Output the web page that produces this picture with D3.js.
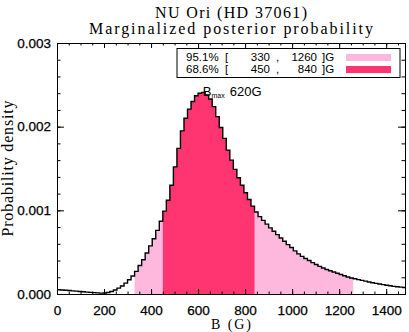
<!DOCTYPE html>
<html>
<head>
<meta charset="utf-8">
<script src="https://cdn.jsdelivr.net/npm/d3@7"></script>
<style>
  body { margin: 0; background: #fff; }
  text { fill: #000; }
</style>
</head>
<body>
<svg id="chart" width="409" height="332"></svg>
<script>
// histogram of the marginalized posterior (15 G bins)
const binWidth = 15;
const densityE3 = [
  0.050, 0.047, 0.044, 0.041, 0.037, 0.034, 0.030, 0.027, 0.023, 0.019,
  0.016, 0.013, 0.011, 0.012, 0.018, 0.030, 0.048, 0.070, 0.095, 0.130,
  0.170, 0.215, 0.270, 0.340, 0.410, 0.490, 0.575, 0.660, 0.760, 0.870,
  0.990, 1.120, 1.300, 1.520, 1.740, 1.950, 2.100, 2.210, 2.300, 2.370,
  2.400, 2.410, 2.380, 2.330, 2.240, 2.120, 1.990, 1.860, 1.720, 1.600,
  1.490, 1.390, 1.300, 1.210, 1.130, 1.050, 0.980, 0.925, 0.880, 0.835,
  0.790, 0.750, 0.710, 0.670, 0.630, 0.590, 0.555, 0.515, 0.480, 0.450,
  0.425, 0.400, 0.375, 0.352, 0.330, 0.310, 0.293, 0.278, 0.263, 0.248,
  0.233, 0.218, 0.204, 0.192, 0.182, 0.172, 0.163, 0.154, 0.144, 0.135,
  0.127, 0.120, 0.112, 0.105, 0.098, 0.091, 0.086, 0.082, 0.078, 0.075
];

// credible intervals
const intervalLabels = ["95.1%", "68.6%"];
const intervalLow = [330, 450];
const intervalHigh = [1260, 840];
const intervalColors = ["#ffb8dd", "#ff3571"];
const bMax = 620;

const xTicks = [0, 200, 400, 600, 800, 1000, 1200, 1400];
const yTicks = [0.000, 0.001, 0.002, 0.003];

const svg = d3.select("#chart");
const pL = 57, pR = 405, pT = 43, pB = 294;

const x = d3.scaleLinear().domain([0, 1480]).range([pL, pR]);
const y = d3.scaleLinear().domain([0, 0.003]).range([pB, pT]);

// step outline points
const steps = [];
densityE3.forEach((d, i) => {
    steps.push([i * binWidth, d / 1000]);
    steps.push([(i + 1) * binWidth, d / 1000]);
});

svg.append("clipPath").attr("id", "plotclip")
    .append("rect")
    .attr("x", pL).attr("y", pT)
    .attr("width", pR - pL).attr("height", pB - pT);

const area = d3.area()
    .x(d => x(d[0]))
    .y0(y(0))
    .y1(d => y(d[1]));

// shaded intervals, widest first
intervalLow.forEach((lo, i) => {
    const id = "iv" + i;
    svg.append("clipPath").attr("id", id)
        .append("rect")
        .attr("x", x(lo)).attr("y", pT)
        .attr("width", x(intervalHigh[i]) - x(lo))
        .attr("height", pB - pT);
    svg.append("path")
        .datum(steps)
        .attr("clip-path", `url(#${id})`)
        .attr("fill", intervalColors[i])
        .attr("d", area);
});

svg.append("g").attr("clip-path", "url(#plotclip)")
    .append("path")
    .datum(steps)
    .attr("fill", "none")
    .attr("stroke", "#000")
    .attr("stroke-width", 1.4)
    .attr("d", d3.line().x(d => x(d[0])).y(d => y(d[1])));

// axes: ticks pointing inward on all four sides
const xMinor = d3.range(0, 1481, 50);
const yMinor = d3.range(0, 0.00301, 0.0002);

svg.append("g")
    .attr("transform", `translate(0,${pB})`)
    .call(d3.axisBottom(x).tickValues(xMinor).tickSize(-2.5).tickFormat(""));
svg.append("g")
    .attr("transform", `translate(0,${pB})`)
    .call(d3.axisBottom(x).tickValues(xTicks).tickSize(-5).tickPadding(11).tickFormat(d3.format("d")));
svg.append("g")
    .attr("transform", `translate(0,${pT})`)
    .call(d3.axisTop(x).tickValues(xMinor).tickSize(-2.5).tickFormat(""));
svg.append("g")
    .attr("transform", `translate(0,${pT})`)
    .call(d3.axisTop(x).tickValues(xTicks).tickSize(-5).tickFormat(""));

svg.append("g")
    .attr("transform", `translate(${pL},0)`)
    .call(d3.axisLeft(y).tickValues(yMinor).tickSize(-3.5).tickFormat(""));
svg.append("g")
    .attr("transform", `translate(${pL},0)`)
    .call(d3.axisLeft(y).tickValues(yTicks).tickSize(-7).tickPadding(6).tickFormat(d3.format(".3f")));
svg.append("g")
    .attr("transform", `translate(${pR},0)`)
    .call(d3.axisRight(y).tickValues(yMinor).tickSize(-3.5).tickFormat(""));
svg.append("g")
    .attr("transform", `translate(${pR},0)`)
    .call(d3.axisRight(y).tickValues(yTicks).tickSize(-7).tickFormat(""));

svg.selectAll(".domain").attr("stroke", "#000");
svg.selectAll(".tick line").attr("stroke", "#000");
svg.selectAll(".tick text")
    .attr("font-family", "Liberation Sans, Arial, sans-serif")
    .attr("font-size", 13.5)
    .attr("fill", "#000")
    .attr("stroke", "#000")
    .attr("stroke-width", 0.25);

// titles
const serif = "Liberation Serif, Times New Roman, serif";
svg.append("text")
    .attr("x", (pL + pR) / 2).attr("y", 18)
    .attr("text-anchor", "middle")
    .attr("font-family", serif).attr("font-size", 16)
    .attr("textLength", 152)
    .text("NU Ori (HD 37061)");
svg.append("text")
    .attr("x", (pL + pR) / 2).attr("y", 34)
    .attr("text-anchor", "middle")
    .attr("font-family", serif).attr("font-size", 16)
    .attr("textLength", 284)
    .text("Marginalized posterior probability");
svg.append("text")
    .attr("x", (pL + pR) / 2).attr("y", 329)
    .attr("text-anchor", "middle")
    .attr("font-family", serif).attr("font-size", 14)
    .attr("textLength", 40)
    .text("B (G)");
svg.append("text")
    .attr("transform", `translate(13,${(pT + pB) / 2}) rotate(-90)`)
    .attr("text-anchor", "middle")
    .attr("font-family", serif).attr("font-size", 16)
    .attr("textLength", 136)
    .text("Probability density");

// B_max label
const sans = "Liberation Sans, Arial, sans-serif";
const bm = svg.append("text")
    .attr("x", x(bMax)).attr("y", 96)
    .attr("font-family", sans)
    .attr("font-size", 13);
bm.append("tspan").text("B");
bm.append("tspan").attr("font-size", 7).attr("dy", 2).text("max");
bm.append("tspan").attr("dy", -2).attr("dx", 5).text(bMax + "G");

// legend box
svg.append("rect")
    .attr("x", 177).attr("y", 48.5)
    .attr("width", 223).attr("height", 29)
    .attr("fill", "#fff").attr("stroke", "#000").attr("stroke-width", 1);

intervalLabels.forEach((lab, i) => {
    const ty = 60.5 + i * 12;
    const g = svg.append("g")
        .attr("font-family", sans).attr("font-size", 11.5);
    g.append("text").attr("x", 186).attr("y", ty).text(lab);
    g.append("text").attr("x", 225).attr("y", ty).text("[");
    g.append("text").attr("x", 270).attr("y", ty).attr("text-anchor", "end").text(intervalLow[i]);
    g.append("text").attr("x", 276).attr("y", ty).text(",");
    g.append("text").attr("x", 317).attr("y", ty).attr("text-anchor", "end").text(intervalHigh[i]);
    g.append("text").attr("x", 322).attr("y", ty).text("]G");
    svg.append("rect")
        .attr("x", 346).attr("y", 54 + i * 12)
        .attr("width", 45).attr("height", 7)
        .attr("fill", intervalColors[i]);
});
</script>
</body>
</html>
